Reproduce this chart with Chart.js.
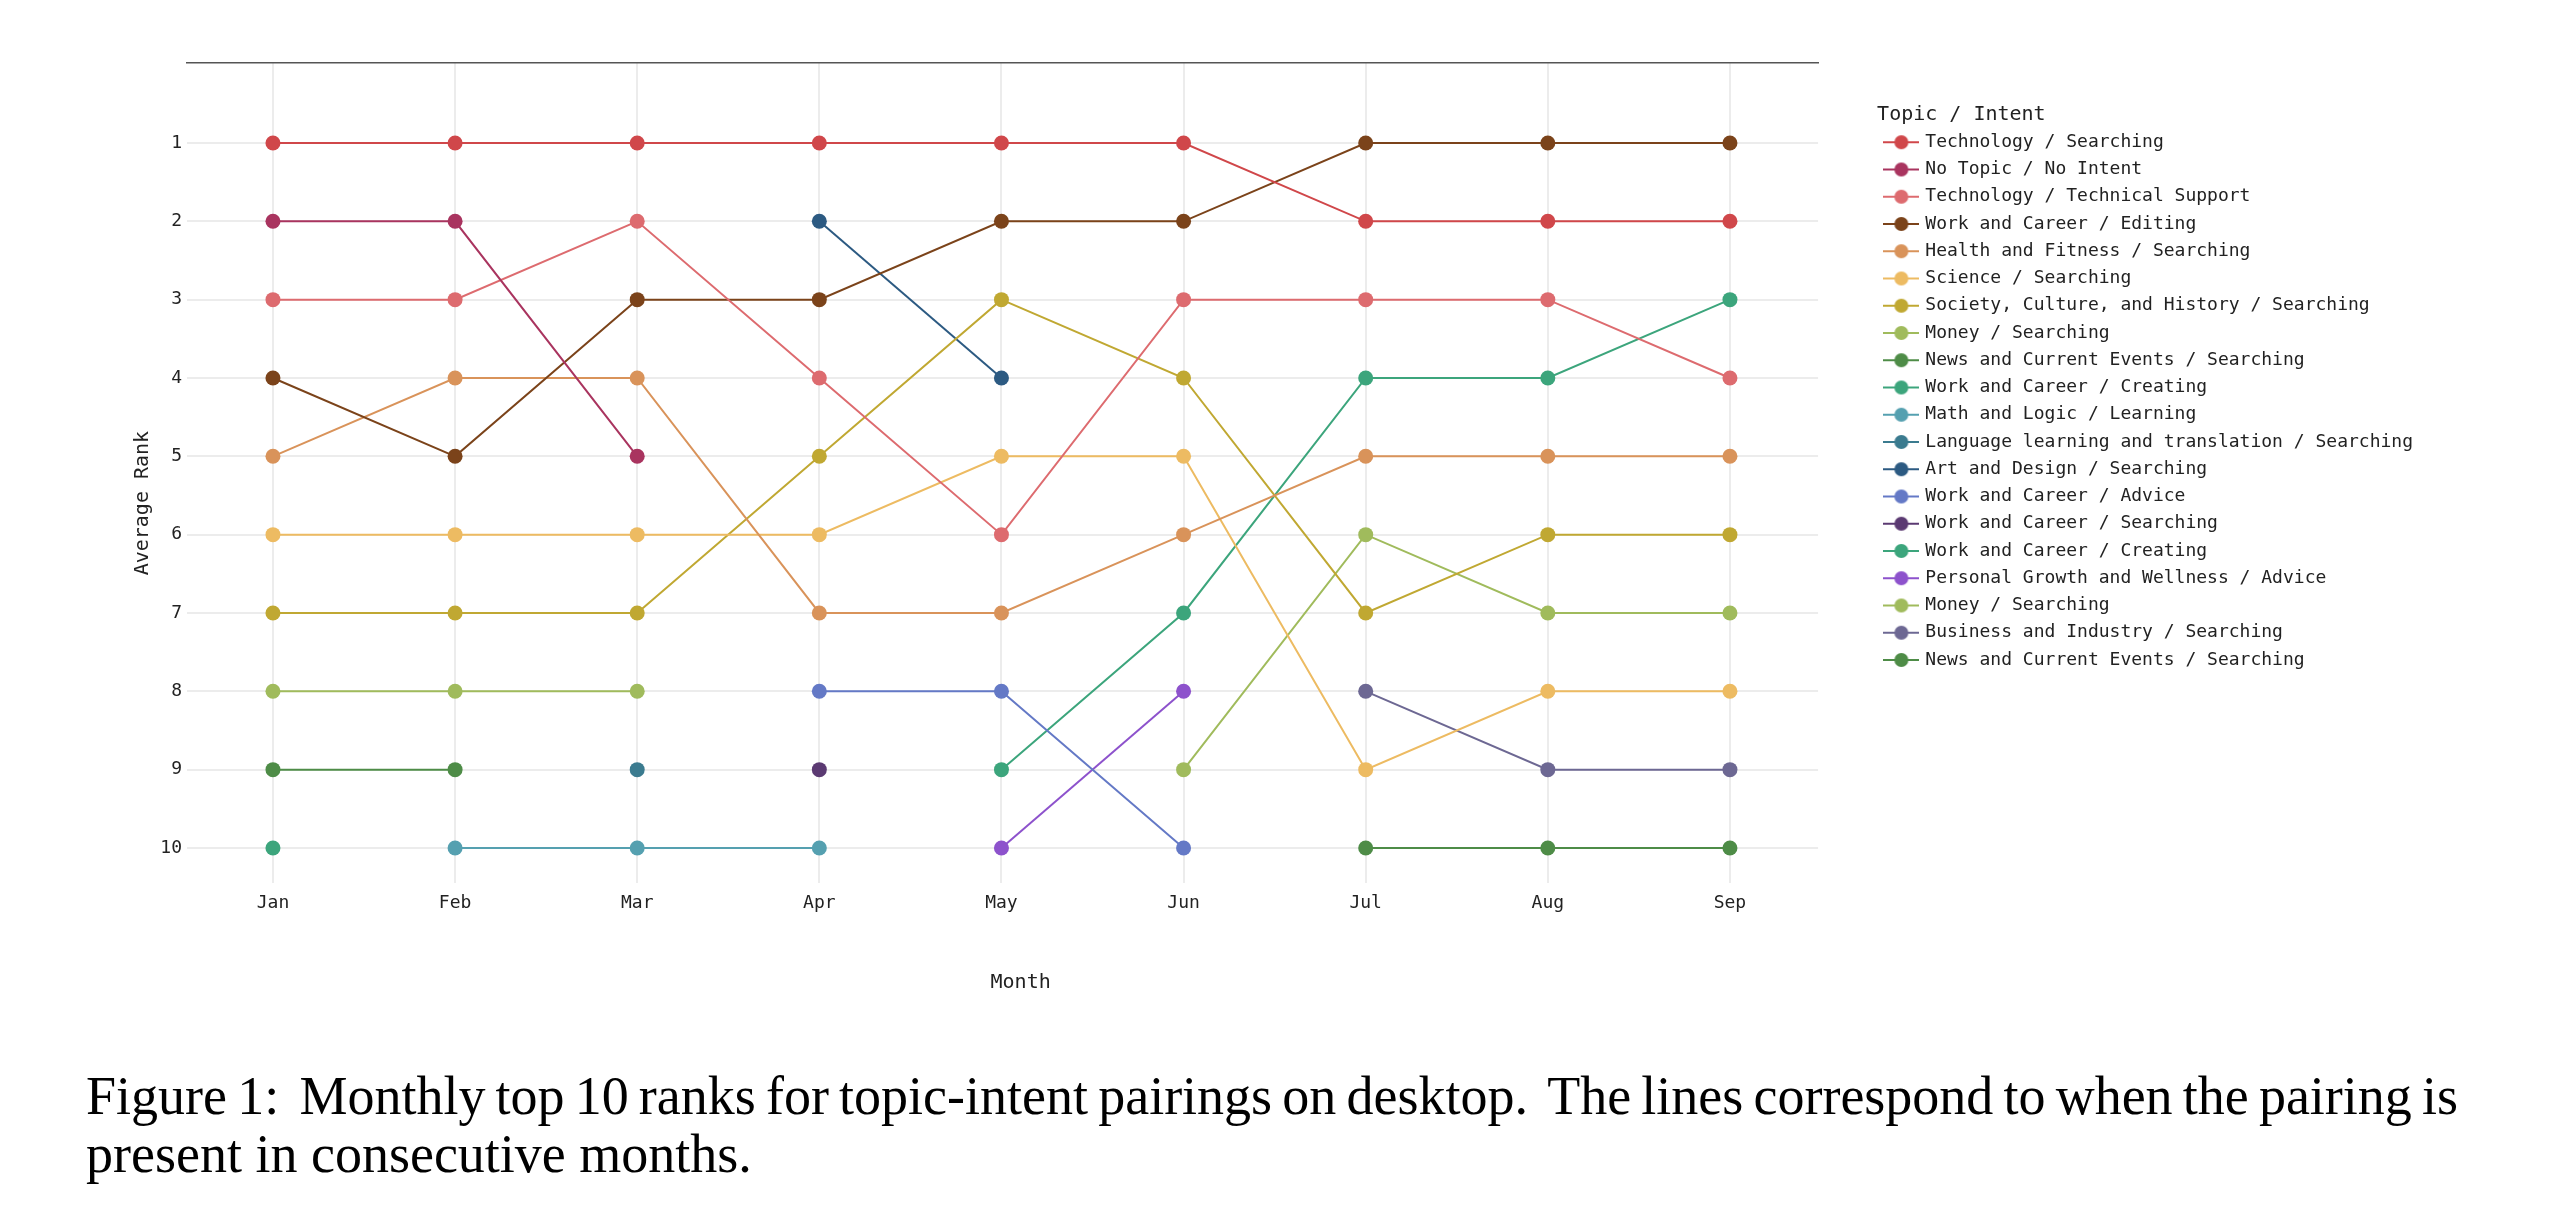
<!DOCTYPE html>
<html>
<head>
<meta charset="utf-8">
<script src="https://cdn.jsdelivr.net/npm/chart.js@4.4.0/dist/chart.umd.min.js"></script>
<style>
  html, body { margin: 0; padding: 0; background: #fff; }
  body { width: 2552px; height: 1226px; position: relative; overflow: hidden; }
  #chart { position: absolute; left: 0; top: 0; }
  #caption {
    position: absolute; left: 86px; top: 1067px; width: 2372px;
    font-family: 'Liberation Serif', 'Times New Roman', serif;
    font-size: 54px; line-height: 58px; color: #000; text-align: justify;
  }
  #caption .tight { word-spacing: -5px; }
</style>
</head>
<body>
<canvas id="chart" width="2552" height="1040"></canvas>
<div id="caption"><span class="tight">Figure 1:&nbsp; Monthly top 10 ranks for topic-intent pairings on desktop.&nbsp; The lines correspond to when the pairing is</span> present in consecutive months.</div>
<script>
const months = ['Jan', 'Feb', 'Mar', 'Apr', 'May', 'Jun', 'Jul', 'Aug', 'Sep']
const rankTicks = [1, 2, 3, 4, 5, 6, 7, 8, 9, 10]

// one array per trace, null = not in the top 10 that month
const techSearching     = [1, 1, 1, 1, 1, 1, 2, 2, 2]
const noTopic           = [2, 2, 5, null, null, null, null, null, null]
const techSupport       = [3, 3, 2, 4, 6, 3, 3, 3, 4]
const workEditing       = [4, 5, 3, 3, 2, 2, 1, 1, 1]
const healthSearching   = [5, 4, 4, 7, 7, 6, 5, 5, 5]
const scienceSearching  = [6, 6, 6, 6, 5, 5, 9, 8, 8]
const societySearching  = [7, 7, 7, 5, 3, 4, 7, 6, 6]
const moneySearching    = [8, 8, 8, null, null, null, null, null, null]
const newsSearching     = [9, 9, null, null, null, null, null, null, null]
const workCreating      = [10, null, null, null, null, null, null, null, null]
const mathLearning      = [null, 10, 10, 10, null, null, null, null, null]
const languageSearching = [null, null, 9, null, null, null, null, null, null]
const artSearching      = [null, null, null, 2, 4, null, null, null, null]
const workAdvice        = [null, null, null, 8, 8, 10, null, null, null]
const workSearching     = [null, null, null, 9, null, null, null, null, null]
const workCreating2     = [null, null, null, null, 9, 7, 4, 4, 3]
const growthAdvice      = [null, null, null, null, 10, 8, null, null, null]
const moneySearching2   = [null, null, null, null, null, 9, 6, 7, 7]
const businessSearching = [null, null, null, null, null, null, 8, 9, 9]
const newsSearching2    = [null, null, null, null, null, null, 10, 10, 10]

const seriesNames = [
    'Technology / Searching',
    'No Topic / No Intent',
    'Technology / Technical Support',
    'Work and Career / Editing',
    'Health and Fitness / Searching',
    'Science / Searching',
    'Society, Culture, and History / Searching',
    'Money / Searching',
    'News and Current Events / Searching',
    'Work and Career / Creating',
    'Math and Logic / Learning',
    'Language learning and translation / Searching',
    'Art and Design / Searching',
    'Work and Career / Advice',
    'Work and Career / Searching',
    'Work and Career / Creating',
    'Personal Growth and Wellness / Advice',
    'Money / Searching',
    'Business and Industry / Searching',
    'News and Current Events / Searching'
]

const seriesValues = [
    techSearching, noTopic, techSupport, workEditing, healthSearching,
    scienceSearching, societySearching, moneySearching, newsSearching, workCreating,
    mathLearning, languageSearching, artSearching, workAdvice, workSearching,
    workCreating2, growthAdvice, moneySearching2, businessSearching, newsSearching2
]

const seriesColors = [
    '#d0474a', '#a9345f', '#dd6b6f', '#7b431a', '#d9935a',
    '#edbb62', '#c0a832', '#a0bb5c', '#4e8c47', '#3ca57c',
    '#55a0b0', '#3b7b8f', '#2c5a82', '#6479c6', '#5b3a72',
    '#3ca57c', '#8d52cc', '#a0bb5c', '#6d6893', '#4e8c47'
]

const monoFont = 'DejaVu Sans Mono'
const textColor = '#222'
const gridColor = '#ececec'

Chart.defaults.font.family = monoFont
Chart.defaults.color = textColor

chartJS()

function makeIcon(color) {
    let c = document.createElement('canvas')
    c.width = 36
    c.height = 18
    let g = c.getContext('2d')
    g.strokeStyle = color
    g.lineWidth = 2
    g.beginPath()
    g.moveTo(0, 9)
    g.lineTo(36, 9)
    g.stroke()
    g.fillStyle = color
    g.beginPath()
    g.arc(18, 9, 7, 0, Math.PI * 2)
    g.fill()
    return c
}

function toPoints(values) {
    let points = []
    for (let i = 0; i < values.length; i++) {
        if (values[i] != null) {
            points.push({ x: i, y: values[i] })
        }
    }
    return points
}

function chartJS() {
    let ctx = document.getElementById('chart').getContext('2d')
    let datasets = []
    for (let i = 0; i < seriesNames.length; i++) {
        datasets.push({
            label: seriesNames[i],
            data: toPoints(seriesValues[i]),
            borderColor: seriesColors[i],
            backgroundColor: seriesColors[i],
            borderWidth: 2,
            pointRadius: 7.5,
            pointBorderWidth: 0,
            pointHoverRadius: 7.5,
            tension: 0
        })
    }

    window.line = new Chart(ctx, {
        type: 'line',
        data: { datasets: datasets },
        options: {
            responsive: false,
            animation: false,
            devicePixelRatio: 1,
            layout: { padding: { left: 120, top: 63, right: 129, bottom: 45 } },
            plugins: {
                tooltip: { enabled: false },
                legend: {
                    position: 'right',
                    align: 'start',
                    maxWidth: 620,
                    title: {
                        display: true,
                        text: 'Topic / Intent',
                        position: 'start',
                        color: textColor,
                        font: { family: monoFont, size: 20, lineHeight: 1 },
                        padding: { top: 42, bottom: -1 }
                    },
                    labels: {
                        usePointStyle: true,
                        pointStyleWidth: 30,
                        boxHeight: 18,
                        padding: 9.25,
                        color: textColor,
                        font: { family: monoFont, size: 18 },
                        generateLabels: function (chart) {
                            return chart.data.datasets.map(function (ds, i) {
                                return {
                                    text: ds.label,
                                    pointStyle: makeIcon(seriesColors[i]),
                                    fillStyle: seriesColors[i],
                                    strokeStyle: seriesColors[i],
                                    lineWidth: 0,
                                    fontColor: textColor,
                                    datasetIndex: i
                                }
                            })
                        }
                    }
                }
            },
            scales: {
                x: {
                    type: 'linear',
                    min: -0.472,
                    max: 8.484,
                    afterBuildTicks: function (scale) {
                        scale.ticks = months.map(function (m, i) { return { value: i } })
                    },
                    ticks: {
                        callback: function (v) { return months[v] },
                        font: { family: monoFont, size: 18 },
                        color: textColor,
                        padding: 10,
                        maxRotation: 0,
                        autoSkip: false
                    },
                    grid: { color: gridColor, lineWidth: 2, drawTicks: false },
                    border: { display: false },
                    title: {
                        display: true,
                        // leading spaces nudge the centred title to the right like the original
                        text: '   Month',
                        color: textColor,
                        font: { family: monoFont, size: 20 },
                        padding: 0
                    },
                    afterFit: function (scale) { scale.height = 112 }
                },
                x2: {
                    type: 'linear',
                    position: 'top',
                    grid: { display: false, drawTicks: false },
                    ticks: { display: false },
                    border: { display: true, color: '#555', width: 1.5 },
                    afterFit: function (scale) { scale.height = 0 }
                },
                y: {
                    type: 'linear',
                    reverse: true,
                    min: -0.021,
                    max: 10.447,
                    afterBuildTicks: function (scale) {
                        scale.ticks = rankTicks.map(function (v) { return { value: v } })
                    },
                    ticks: {
                        padding: 5,
                        font: { family: monoFont, size: 18 },
                        color: textColor
                    },
                    grid: { color: gridColor, lineWidth: 2, drawTicks: false },
                    border: { display: false },
                    title: {
                        display: true,
                        text: 'Average Rank     ',
                        color: textColor,
                        font: { family: monoFont, size: 20 },
                        padding: { top: 11, bottom: 0 }
                    },
                    afterFit: function (scale) { scale.width = 67 }
                },
                y2: {
                    type: 'linear',
                    position: 'right',
                    grid: { display: false, drawTicks: false },
                    ticks: { display: false },
                    border: { display: false },
                    afterFit: function (scale) { scale.width = 59 }
                }
            }
        }
    })
}
</script>
</body>
</html>
